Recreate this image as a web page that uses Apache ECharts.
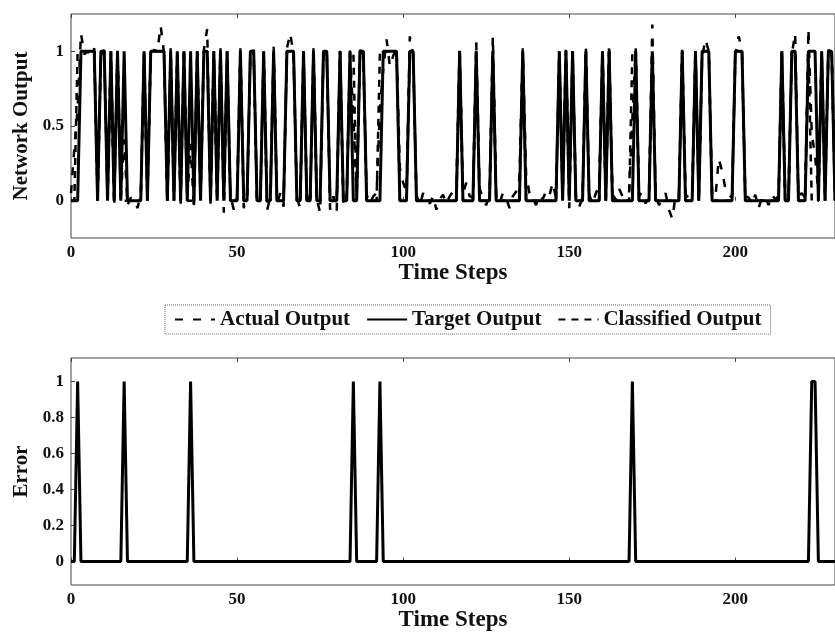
<!DOCTYPE html>
<html><head><meta charset="utf-8">
<script src="https://cdn.jsdelivr.net/npm/echarts@6/dist/echarts.min.js"></script>
<style>html,body{margin:0;padding:0;background:#fff}#c{width:835px;height:639px}</style>
</head><body><div id="c"></div>
<script>
// time steps 0..230 (index = time step)
const targetOutput = [
0,0,0,1,1,1,1,1,0,1,
1,0,1,0,1,0,1,0,0,0,
0,0,1,0,1,1,1,1,1,0,
1,0,1,0,1,0,1,0,1,0,
1,1,0,1,0,1,0,1,0,0,
0,1,0,0,1,1,0,0,1,0,
0,1,0,0,0,1,1,1,0,0,
1,0,0,1,0,0,1,1,0,0,
0,1,0,0,1,0,0,1,1,0,
0,0,0,0,1,1,1,1,1,0,
0,0,1,1,0,0,0,0,0,0,
0,0,0,0,0,0,0,1,0,0,
0,0,1,0,0,0,0,1,0,0,
0,0,0,0,0,0,1,0,0,0,
0,0,0,0,0,0,0,1,0,1,
0,1,0,0,0,1,0,0,0,0,
1,0,1,0,0,0,0,0,0,0,
1,0,0,0,0,1,0,0,0,0,
0,0,0,0,1,0,0,0,1,0,
1,1,1,0,0,0,0,0,0,0,
1,1,1,0,0,0,0,0,0,0,
0,0,0,0,1,0,0,1,1,0,
0,0,1,1,1,0,1,0,1,1,
0];
const classifiedOutput = [
0,0,1,1,1,1,1,1,0,1,
1,0,1,0,1,0,0,0,0,0,
0,0,1,0,1,1,1,1,1,0,
1,0,1,0,1,0,0,0,1,0,
1,1,0,1,0,1,0,1,0,0,
0,1,0,0,1,1,0,0,1,0,
0,1,0,0,0,1,1,1,0,0,
1,0,0,1,0,0,1,1,0,0,
0,1,0,0,1,1,0,1,1,0,
0,0,0,1,1,1,1,1,1,0,
0,0,1,1,0,0,0,0,0,0,
0,0,0,0,0,0,0,1,0,0,
0,0,1,0,0,0,0,1,0,0,
0,0,0,0,0,0,1,0,0,0,
0,0,0,0,0,0,0,1,0,1,
0,1,0,0,0,1,0,0,0,0,
1,0,1,0,0,0,0,0,0,1,
1,0,0,0,0,1,0,0,0,0,
0,0,0,0,1,0,0,0,1,0,
1,1,1,0,0,0,0,0,0,0,
1,1,1,0,0,0,0,0,0,0,
0,0,0,0,1,0,0,1,1,0,
0,0,1,0,0,0,1,0,1,1,
0];
const actualOutput = [
0.05,0.35,0.62,1.12,0.98,1.0,0.97,1.02,0.04,0.96,
1.01,0.03,0.98,-0.04,1.03,0.02,0.41,-0.03,0.02,0.01,
-0.05,0.04,0.97,0.05,0.99,1.01,1.0,1.17,0.99,-0.02,
1.02,0.06,0.95,-0.03,1.03,0.02,0.38,-0.06,0.97,0.03,
1.01,1.15,-0.02,0.98,0.05,1.02,-0.08,0.96,0.03,-0.06,
0.02,1.02,-0.05,0.04,0.97,1.01,-0.03,0.02,0.98,-0.07,
0.03,1.03,-0.02,0.05,-0.04,1.02,1.12,0.98,0.02,-0.05,
0.99,0.04,-0.03,1.02,0.01,-0.08,0.97,1.0,-0.06,0.03,
-0.07,1.01,-0.04,0.02,0.98,0.57,0.03,1.01,0.96,0.04,
-0.02,0.03,0.05,0.62,0.88,1.08,0.9,0.97,1.02,0.22,
0.12,0.06,1.1,0.98,0.04,-0.03,0.05,0.02,-0.02,0.03,
-0.06,0.01,0.04,-0.02,0.03,0.06,0.08,1.03,0.05,0.12,
0.03,0.02,1.06,0.08,0.02,-0.03,0.04,1.1,0.03,-0.02,
0.05,0.02,-0.05,0.03,0.06,0.15,1.02,0.18,0.05,0.02,
-0.03,0.04,0.01,0.06,0.03,0.12,0.02,0.98,0.04,1.01,
-0.05,0.97,0.03,-0.04,0.02,1.03,0.04,-0.02,0.05,0.1,
0.99,0.02,1.05,0.04,0.01,0.08,0.03,0.02,0.05,0.55,
1.02,0.03,0.06,-0.02,0.04,1.18,0.04,-0.03,0.02,0.05,
-0.06,-0.12,0.03,0.02,1.01,0.04,0.02,0.05,1.02,0.03,
0.96,1.08,1.0,0.05,0.02,0.28,0.2,0.08,0.04,0.02,
0.98,1.1,1.01,0.03,0.02,-0.02,0.04,-0.05,0.02,0.03,
-0.03,0.04,0.01,0.03,1.02,0.04,0.06,0.98,1.12,0.03,
0.05,0.02,1.15,0.45,0.3,0.05,0.97,0.06,1.01,0.98,
0.04];
const errorValues = [
0,0,1,0,0,0,0,0,0,0,
0,0,0,0,0,0,1,0,0,0,
0,0,0,0,0,0,0,0,0,0,
0,0,0,0,0,0,1,0,0,0,
0,0,0,0,0,0,0,0,0,0,
0,0,0,0,0,0,0,0,0,0,
0,0,0,0,0,0,0,0,0,0,
0,0,0,0,0,0,0,0,0,0,
0,0,0,0,0,1,0,0,0,0,
0,0,0,1,0,0,0,0,0,0,
0,0,0,0,0,0,0,0,0,0,
0,0,0,0,0,0,0,0,0,0,
0,0,0,0,0,0,0,0,0,0,
0,0,0,0,0,0,0,0,0,0,
0,0,0,0,0,0,0,0,0,0,
0,0,0,0,0,0,0,0,0,0,
0,0,0,0,0,0,0,0,0,1,
0,0,0,0,0,0,0,0,0,0,
0,0,0,0,0,0,0,0,0,0,
0,0,0,0,0,0,0,0,0,0,
0,0,0,0,0,0,0,0,0,0,
0,0,0,0,0,0,0,0,0,0,
0,0,0,1,1,0,0,0,0,0,
0];
const xTickValues = [0, 50, 100, 150, 200];
const outYTicks = [0, 0.5, 1];
const errYTicks = [0, 0.2, 0.4, 0.6, 0.8, 1];
const seriesNames = ['Actual Output', 'Target Output', 'Classified Output'];

const pairs = a => a.map((v, i) => [i, v]);
const FONT = 'Liberation Serif';
const lblStyle = {fontFamily: FONT, fontWeight: 'bold', fontSize: 17, color: '#111'};
const nameStyle = {fontFamily: FONT, fontWeight: 'bold', fontSize: 23, color: '#111'};

function xAxes(gi) {
  return [
    {gridIndex: gi, type: 'value', min: 0, max: 230, position: 'bottom',
     axisLine: {show: false}, splitLine: {show: false},
     axisTick: {show: true, inside: true, length: 4, customValues: xTickValues, lineStyle: {color: '#444'}},
     axisLabel: Object.assign({margin: 6, customValues: xTickValues}, lblStyle),
     name: 'Time Steps', nameLocation: 'middle', nameGap: 23, nameTextStyle: nameStyle},
    {gridIndex: gi, type: 'value', min: 0, max: 230, position: 'top',
     axisLine: {show: false}, splitLine: {show: false},
     axisTick: {show: true, inside: true, length: 4, customValues: xTickValues, lineStyle: {color: '#444'}},
     axisLabel: {show: false}}
  ];
}
function yAxis(gi, min, max, ticks, name, gap) {
  return {gridIndex: gi, type: 'value', min: min, max: max,
    axisLine: {show: false}, splitLine: {show: false},
    axisTick: {show: true, inside: true, length: 4, customValues: ticks, lineStyle: {color: '#444'}},
    axisLabel: Object.assign({margin: 7, customValues: ticks, formatter: v => String(v)}, lblStyle),
    name: name, nameLocation: 'middle', nameRotate: 90, nameGap: gap,
    nameTextStyle: Object.assign({}, nameStyle, {fontSize: 21})};
}

const chart = echarts.init(document.getElementById('c'), null, {renderer: 'canvas'});
chart.setOption({
  animation: false,
  backgroundColor: '#fff',
  grid: [
    {left: 71, top: 14, width: 767, height: 224, show: true, borderColor: '#444', borderWidth: 1},
    {left: 71, top: 358, width: 767, height: 227, show: true, borderColor: '#444', borderWidth: 1}
  ],
  xAxis: xAxes(0).concat(xAxes(1)),
  yAxis: [
    yAxis(0, -0.25, 1.25, outYTicks, 'Network Output', 28),
    yAxis(1, -0.13, 1.13, errYTicks, 'Error', 36)
  ],
  legend: {
    data: seriesNames, left: 165, top: 305, orient: 'horizontal',
    itemWidth: 40, itemHeight: 10, itemGap: 16,
    itemStyle: {opacity: 0},
    borderColor: '#666', borderWidth: 1, borderType: 'dotted', padding: [4, 9],
    textStyle: {fontFamily: FONT, fontWeight: 'bold', fontSize: 21, color: '#111'}
  },
  series: [
    {name: seriesNames[1], type: 'line', xAxisIndex: 0, yAxisIndex: 0, data: pairs(targetOutput),
     showSymbol: false, symbol: 'none', lineStyle: {color: '#000', width: 3, type: 'solid'}, itemStyle: {color: '#000'}, z: 2},
    {name: seriesNames[0], type: 'line', xAxisIndex: 0, yAxisIndex: 0, data: pairs(actualOutput),
     showSymbol: false, symbol: 'none', lineStyle: {color: '#000', width: 2.5, type: [8, 10]}, itemStyle: {color: '#000'}, z: 3},
    {name: seriesNames[2], type: 'line', xAxisIndex: 0, yAxisIndex: 0, data: pairs(classifiedOutput),
     showSymbol: false, symbol: 'none', lineStyle: {color: '#000', width: 2.5, type: [7, 6]}, itemStyle: {color: '#000'}, z: 4},
    {name: 'Error', type: 'line', xAxisIndex: 2, yAxisIndex: 1, data: pairs(errorValues),
     showSymbol: false, symbol: 'none', lineStyle: {color: '#000', width: 3}, itemStyle: {color: '#000'}, z: 2}
  ]
});
</script>
</body></html>
